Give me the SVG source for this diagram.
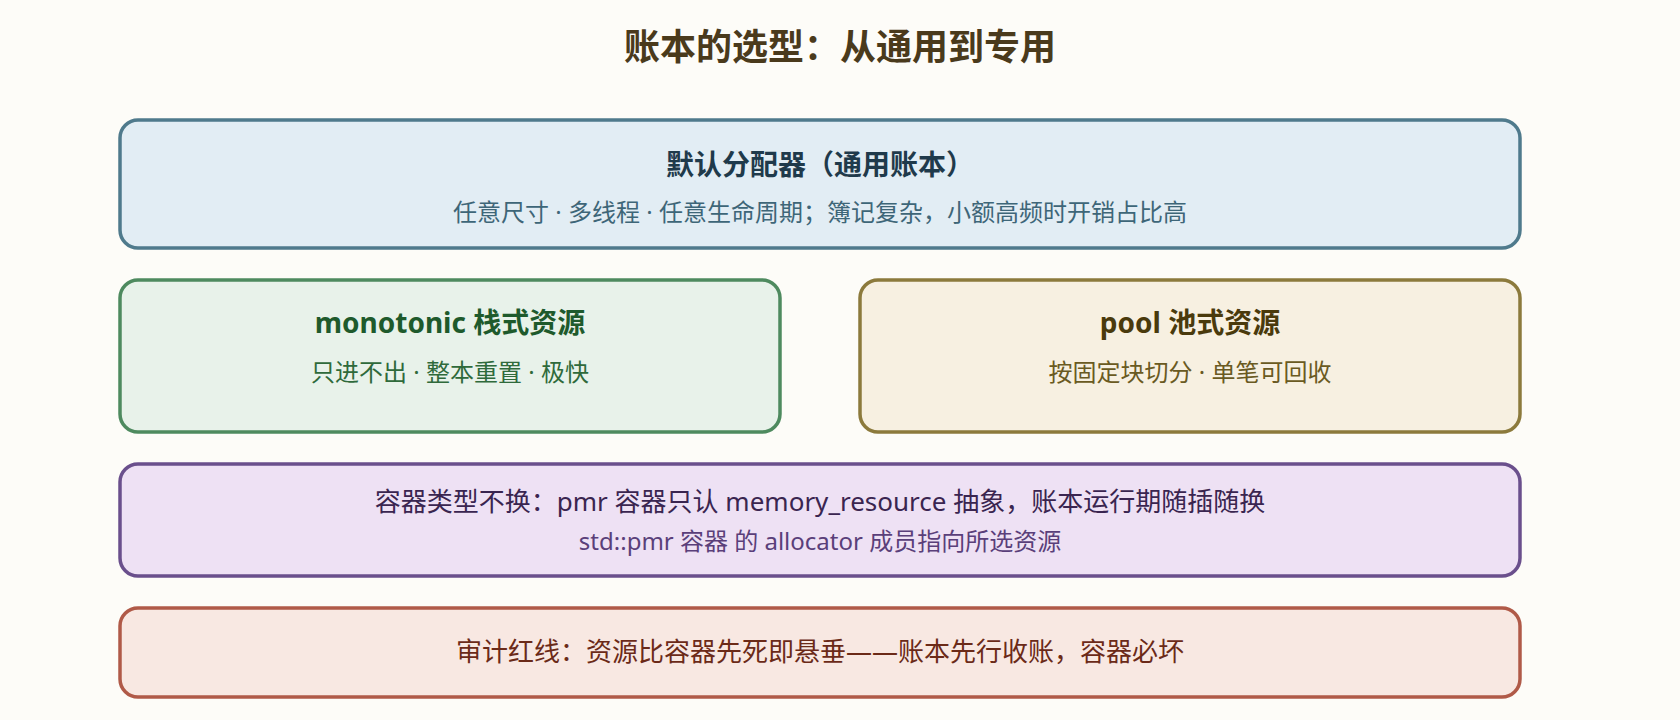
<svg xmlns="http://www.w3.org/2000/svg" width="1680" height="720" viewBox="0 0 1680 720">
<style>
text{font-family:"Noto Sans","Noto Sans CJK SC",sans-serif;text-anchor:middle}
.box{stroke-width:3.5}
.t{font-size:28px;font-weight:bold}
.s{font-size:24px}
</style>
<rect width="1680" height="720" fill="#fdfcf8"/>
<text x="840" y="60" style="font-size:36px;font-weight:bold" fill="#4a3a1c">账本的选型：从通用到专用</text>
<g id="default">
<rect class="box" x="120" y="120" width="1400" height="128" rx="18" fill="#e2edf4" stroke="#4f7a8c"/>
<text class="t" x="820" y="175" fill="#1f3a4b">默认分配器（通用账本）</text>
<text class="s" x="820" y="221" fill="#3e6678">任意尺寸 · 多线程 · 任意生命周期；簿记复杂，小额高频时开销占比高</text>
</g>
<g id="monotonic">
<rect class="box" x="120" y="280" width="660" height="152" rx="18" fill="#e8f2ea" stroke="#4e8a5f"/>
<text class="t" x="450" y="333" fill="#1e5a2c">monotonic 栈式资源</text>
<text class="s" x="450" y="381" fill="#2f6a3b">只进不出 · 整本重置 · 极快</text>
</g>
<g id="pool">
<rect class="box" x="860" y="280" width="660" height="152" rx="18" fill="#f7f0e1" stroke="#8c7a3c"/>
<text class="t" x="1190" y="333" fill="#4a3a0c">pool 池式资源</text>
<text class="s" x="1190" y="381" fill="#6a5a22">按固定块切分 · 单笔可回收</text>
</g>
<g id="pmr">
<rect class="box" x="120" y="464" width="1400" height="112" rx="18" fill="#eee1f4" stroke="#6a4f8c"/>
<text x="820" y="511" style="font-size:26px" fill="#3a2550">容器类型不换：pmr 容器只认 memory_resource 抽象，账本运行期随插随换</text>
<text class="s" x="820" y="550" fill="#5a3f7a">std::pmr 容器 的 allocator 成员指向所选资源</text>
</g>
<g id="audit">
<rect class="box" x="120" y="608" width="1400" height="89" rx="18" fill="#f8e8e2" stroke="#b05a48"/>
<text x="820" y="661" style="font-size:26px" fill="#6b2a18">审计红线：资源比容器先死即悬垂——账本先行收账，容器必坏</text>
</g>
<g id="connectors"/>
</svg>
